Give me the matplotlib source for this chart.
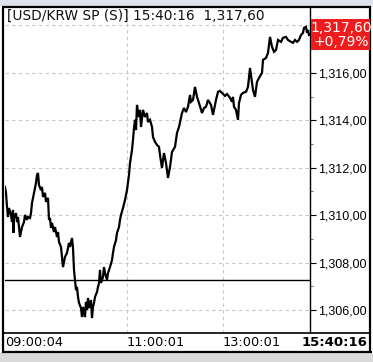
import matplotlib
matplotlib.use("Agg")
import matplotlib.pyplot as plt
from matplotlib.patches import Rectangle
from matplotlib.ticker import FixedLocator, FuncFormatter

# ---------------- data ----------------
title = "[USD/KRW SP (S)] 15:40:16  1,317,60"
last_price_label = "1,317,60"
change_label = "+0,79%"
prev_close = 1307.27

seq = [0, 1, 2, 3, 4, 6, 7, 8, 8.5, 9, 11, 12, 13, 14, 15, 16, 17, 19, 20, 22,
       23, 25, 26, 27, 29, 31, 32, 33, 34, 36, 37, 38, 40, 41, 43, 44, 45, 46, 47, 49,
       50, 52, 53, 54, 56, 57, 58, 60, 62, 63, 64, 65, 67, 68, 69, 70, 71, 72, 73, 74,
       76, 77, 78, 79, 80, 81, 82, 83, 84, 86, 87, 88, 89, 90, 92, 93, 94, 95, 96, 98,
       99, 100, 102, 103, 105, 107, 108, 109, 111, 112, 114, 115, 116, 118, 120, 122, 124, 125, 127, 128,
       129, 130, 131, 132, 133, 134, 135, 136, 137, 138, 140, 142, 143, 145, 147, 148, 150, 152, 154, 155,
       157, 159, 161, 163, 165, 167, 170, 172, 174, 177, 179, 181, 183, 185, 186, 188, 190, 192, 194, 197,
       199, 201, 203, 206, 208, 211, 213, 215, 218, 220, 222, 225, 227, 228, 229, 231, 233, 234, 236, 238,
       241, 243, 245, 247, 248, 250, 252, 254, 257, 258, 261, 263, 265, 267, 269, 271, 273, 276, 278, 281,
       283, 286, 288, 290, 292, 294, 296, 298, 299, 301, 302, 303, 304]

price = [1311.19, 1310.94, 1310.35, 1309.92, 1310.30, 1310.01, 1309.71, 1310.22, 1309.25, 1309.88,
         1310.09, 1309.71, 1309.92, 1309.50, 1309.08, 1309.29, 1309.50, 1309.71, 1310.01, 1309.80,
         1309.92, 1309.88, 1310.09, 1310.51, 1310.94, 1311.36, 1311.70, 1311.78, 1311.27, 1311.06,
         1311.19, 1310.77, 1310.94, 1310.56, 1310.73, 1309.80, 1309.88, 1309.46, 1309.67, 1309.29,
         1309.50, 1309.08, 1309.29, 1308.87, 1308.66, 1308.24, 1307.81, 1308.24, 1308.41, 1308.62,
         1308.83, 1308.66, 1309.04, 1308.62, 1307.69, 1307.27, 1306.84, 1306.97, 1306.55, 1306.30,
         1306.08, 1305.70, 1306.13, 1305.92, 1305.70, 1306.34, 1306.00, 1306.51, 1306.08, 1306.42,
         1305.66, 1306.13, 1306.30, 1306.55, 1306.76, 1306.97, 1307.14, 1307.69, 1307.14, 1307.39,
         1307.81, 1307.56, 1307.27, 1307.56, 1307.81, 1308.11, 1308.41, 1308.66, 1308.95, 1309.25,
         1309.50, 1309.80, 1310.01, 1310.30, 1310.64, 1311.06, 1311.70, 1312.20, 1312.75, 1313.17,
         1313.68, 1314.02, 1313.59, 1314.65, 1314.35, 1314.14, 1314.44, 1313.72, 1314.10, 1314.44,
         1314.14, 1314.31, 1313.93, 1314.02, 1313.72, 1313.30, 1313.09, 1312.96, 1312.88, 1312.54,
         1311.99, 1312.62, 1312.20, 1311.57, 1312.03, 1312.67, 1312.88, 1313.47, 1313.72, 1314.31,
         1314.52, 1314.35, 1314.57, 1315.07, 1314.78, 1314.86, 1315.41, 1314.99, 1314.73, 1314.31,
         1314.52, 1314.57, 1314.86, 1314.65, 1314.23, 1314.86, 1315.20, 1315.24, 1315.11, 1315.03,
         1315.11, 1314.95, 1314.78, 1314.99, 1314.57, 1314.44, 1314.02, 1314.73, 1315.07, 1315.16,
         1315.20, 1315.41, 1316.21, 1315.58, 1315.28, 1314.99, 1315.62, 1315.79, 1316.00, 1316.55,
         1316.63, 1316.84, 1317.52, 1317.10, 1316.89, 1316.97, 1317.39, 1317.31, 1317.48, 1317.52,
         1317.39, 1317.31, 1317.27, 1317.39, 1317.31, 1317.39, 1317.60, 1317.69, 1317.90, 1317.94,
         1317.69, 1317.81, 1317.60]

assert len(seq) == len(price)

y_major = [1306, 1308, 1310, 1312, 1314, 1316]
y_minor = [1305, 1307, 1309, 1311, 1313, 1315, 1317]
time_ticks = [0, 122, 218]
time_labels = ["09:00:04", "11:00:01", "13:00:01"]
end_time_label = "15:40:16"

# ---------------- layout ----------------
W, H = 373, 362
fig = plt.figure(figsize=(W / 100, H / 100), dpi=100)
fig.patch.set_facecolor("white")

def fx(px):
    return px / W

def fy(py):
    return 1 - py / H

font = "DejaVu Sans"
tick_font = "Liberation Sans"

ax = fig.add_axes([fx(5), fy(333), fx(310) - fx(5), fy(7) - fy(333)])
ax.set_facecolor("white")
ax.set_xlim(0, 305)
ax.set_ylim(1305.03, 1318.78)

for s in ["left", "top", "bottom"]:
    ax.spines[s].set_visible(False)
ax.spines["right"].set_color("black")
ax.spines["right"].set_linewidth(1.0)

ax.yaxis.tick_right()
ax.yaxis.set_major_locator(FixedLocator(y_major))
ax.yaxis.set_minor_locator(FixedLocator(y_minor))
ax.yaxis.set_major_formatter(FuncFormatter(lambda v, p: f"{v:,.2f}".replace(".", ",")))
ax.tick_params(axis="y", which="major", direction="out", length=4, width=0.8,
               pad=1.5, labelsize=9, colors="black")
ax.tick_params(axis="y", which="minor", direction="out", length=2.5, width=0.8, colors="#777777")
for lab in ax.get_yticklabels():
    lab.set_fontfamily(tick_font)
ax.set_xticks([])

grid_kw = dict(color="#c8c8c8", lw=0.8, ls=(0, (3, 3)), zorder=1)
for v in y_major + [1318]:
    ax.axhline(v, **grid_kw)
for t in time_ticks[1:]:
    ax.axvline(t, **grid_kw)

ax.axhline(prev_close, color="black", lw=1.0, zorder=2)
ax.plot(seq, price, color="black", lw=1.6, zorder=3, solid_joinstyle="miter")

ax.text(2, 1318.42, title, fontsize=9.9, family=font, va="center", ha="left",
        color="#111111", zorder=5)

# time bar
tax = fig.add_axes([fx(3), fy(352), fx(370) - fx(3), fy(333) - fy(352)])
tax.set_xlim(3, 370)
tax.set_ylim(352, 333)
tax.set_xticks([])
tax.set_yticks([])
for s in tax.spines.values():
    s.set_linewidth(1.2)
tax.spines["bottom"].set_linewidth(2.2)
for t, lab in zip(time_ticks, time_labels):
    tax.text(t + 5, 343, lab, fontsize=9.3, family=font, va="center", ha="left")
tax.text(367, 343, end_time_label, fontsize=9.5, family=font, weight="bold",
         va="center", ha="right")

# outer bands and frame
fig.patches.append(Rectangle((0, fy(5.5)), 1, 1 - fy(5.5), transform=fig.transFigure,
                             facecolor="#dde2ea", edgecolor="none", zorder=5))
fig.patches.append(Rectangle((0, 0), 1, fy(353), transform=fig.transFigure,
                             facecolor="#d9d9d9", edgecolor="none", zorder=5))
fig.patches.append(Rectangle((fx(2.5), fy(352)), fx(370) - fx(2.5), fy(6.5) - fy(352),
                             transform=fig.transFigure, facecolor="none",
                             edgecolor="black", lw=1.6, zorder=6))

# last price box
fig.patches.append(Rectangle((fx(311), fy(50)), fx(370) - fx(311), fy(19) - fy(50),
                             transform=fig.transFigure, facecolor="#ee1c1c",
                             edgecolor="none", zorder=7))
fig.text(fx(341), fy(27.5), last_price_label, color="white", fontsize=10, family=font,
         ha="center", va="center", zorder=8)
fig.text(fx(341), fy(42.5), change_label, color="white", fontsize=10, family=font,
         ha="center", va="center", zorder=8)

fig.savefig("out.png", dpi=100, facecolor=fig.get_facecolor())
